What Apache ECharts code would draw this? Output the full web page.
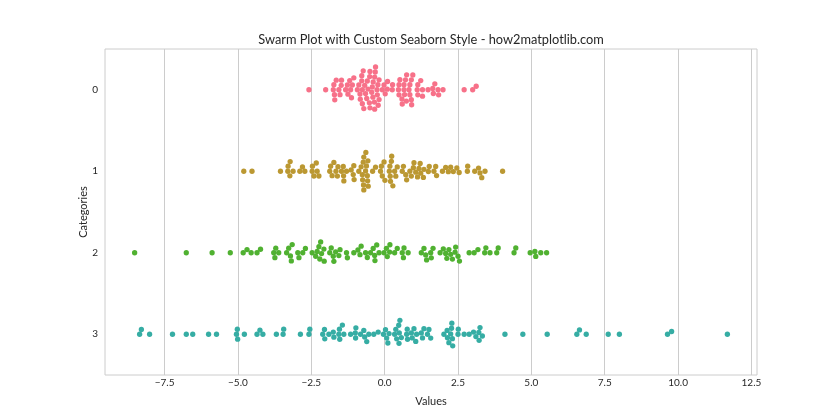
<!DOCTYPE html>
<html><head><meta charset="utf-8">
<script src="https://cdn.jsdelivr.net/npm/echarts@6/dist/echarts.min.js"></script>
<style>html,body{margin:0;padding:0;background:#fff}#c{width:840px;height:420px}</style>
</head><body><div id="c"></div>
<script>
const titleText = 'Swarm Plot with Custom Seaborn Style - how2matplotlib.com';
const xName = 'Values';
const yName = 'Categories';
const categories = ['0', '1', '2', '3'];
const xTicks = [-7.5, -5.0, -2.5, 0.0, 2.5, 5.0, 7.5, 10.0, 12.5];
const colors = ['#f77189', '#bb9832', '#50b131', '#36ada4'];

const values0 = [-2.58, -2.01, -1.70, -1.47, -1.73, -1.52, -1.56, -1.75, -1.71, -1.48, -1.65, -1.19, -1.25, -1.05, -1.33, -1.16, -1.27, -1.10, -1.13, -0.73, -0.51, -0.34, -0.26, -0.78, -0.52, -0.35, -0.84, -0.61, -0.42, -0.23, -0.88, -0.68, -0.50, -0.31, -0.93, -0.76, -0.57, -0.39, -0.19, -0.83, -0.65, -0.44, -0.25, -0.78, -0.59, -0.40, -0.22, -0.76, -0.50, -0.19, -0.71, -0.34, -0.32, 0.02, -0.08, 0.09, 0.26, -0.02, 0.10, 0.27, 0.60, 0.96, 0.59, 0.75, 0.91, 0.49, 0.68, 0.86, 0.47, 0.66, 0.83, 0.49, 0.66, 0.86, 0.52, 0.71, 0.91, 0.74, 0.92, 1.13, 1.29, 1.13, 1.29, 1.11, 1.23, 1.48, 1.71, 1.66, 1.64, 1.82, 1.84, 1.99, 2.71, 3.00, 3.12];
const values1 = [-4.80, -4.52, -3.55, -3.23, -3.22, -3.30, -3.12, -3.29, -2.89, -2.72, -2.80, -2.41, -2.24, -2.47, -2.30, -2.46, -2.33, -1.79, -1.61, -1.87, -1.66, -1.84, -1.73, -1.59, -1.41, -1.40, -1.47, -1.39, -1.30, -1.07, -1.14, -1.05, -1.04, -0.88, -0.65, -0.71, -0.76, -0.57, -0.80, -0.62, -0.73, -0.58, -0.75, -0.59, -0.72, -0.56, -0.71, -0.64, -0.41, -0.31, -0.08, -0.14, -0.11, -0.02, 0.01, 0.28, 0.20, 0.18, 0.16, 0.19, 0.23, 0.24, 0.34, 0.38, 0.43, 0.64, 0.60, 0.72, 0.75, 0.86, 0.98, 1.12, 0.91, 1.00, 1.06, 1.17, 1.23, 1.21, 1.34, 1.32, 1.49, 1.52, 1.68, 1.77, 1.74, 1.97, 2.08, 2.17, 2.25, 2.34, 2.46, 2.54, 2.82, 2.83, 3.07, 3.20, 3.25, 3.31, 3.42, 4.02];
const values2 = [-8.52, -6.76, -5.88, -5.26, -4.82, -4.69, -4.55, -4.35, -4.23, -3.78, -3.71, -3.74, -3.61, -3.27, -3.34, -3.21, -3.18, -3.15, -2.92, -2.96, -2.79, -2.70, -2.47, -2.30, -2.15, -2.18, -2.35, -2.21, -2.07, -2.06, -2.24, -1.87, -1.82, -1.67, -1.75, -1.73, -1.56, -1.52, -1.30, -1.27, -1.05, -0.91, -0.80, -0.84, -0.65, -0.59, -0.48, -0.39, -0.33, -0.34, -0.27, -0.19, -0.02, 0.06, 0.17, 0.09, 0.18, 0.34, 0.43, 0.66, 0.60, 0.80, 0.64, 1.43, 1.25, 1.40, 1.34, 1.57, 1.65, 1.59, 1.89, 2.00, 2.12, 2.08, 2.19, 2.31, 2.40, 2.42, 2.50, 2.55, 2.25, 2.88, 3.05, 3.18, 3.41, 3.45, 3.59, 3.82, 3.87, 4.41, 4.47, 4.96, 5.12, 5.15, 5.32, 5.52];
const values3 = [-8.35, -8.29, -8.01, -7.23, -6.76, -6.54, -6.00, -5.73, -5.05, -5.01, -5.02, -4.78, -4.35, -4.15, -4.25, -3.69, -3.46, -3.44, -2.87, -2.58, -2.55, -2.05, -2.11, -2.04, -1.90, -1.75, -1.73, -1.54, -1.56, -1.53, -1.44, -1.39, -1.16, -0.99, -0.98, -1.00, -0.82, -0.68, -0.61, -0.71, -0.54, -0.37, -0.22, -0.04, 0.03, 0.07, 0.15, 0.11, 0.34, 0.38, 0.49, 0.41, 0.48, 0.50, 0.57, 0.52, 0.75, 0.77, 0.78, 0.94, 0.91, 1.06, 1.00, 1.09, 1.25, 1.34, 1.29, 1.51, 1.57, 1.46, 2.02, 2.14, 2.19, 2.13, 2.31, 2.28, 2.25, 2.29, 2.32, 2.50, 2.51, 2.71, 2.88, 3.03, 3.11, 3.22, 3.33, 3.25, 3.21, 4.10, 4.71, 5.54, 6.55, 6.64, 6.87, 7.62, 8.00, 9.64, 9.78, 11.68];
const seriesValues = [values0, values1, values2, values3];

const FONT = 'Lato, "Liberation Sans", sans-serif';
const TXT = '#262626';
const GRIDC = '#cccccc';
const R = 2.43;           // marker radius (px) used by the swarm layout
const SYM = 5.3;          // drawn marker diameter

function fmt(v) {
  return v.toFixed(1).replace('-', '\u2212');
}

const all = [].concat(...seriesValues);
const dmin = Math.min(...all), dmax = Math.max(...all);
const pad = (dmax - dmin) * 0.05;

const chart = echarts.init(document.getElementById('c'), null, {renderer: 'canvas'});
chart.setOption({
  animation: false,
  backgroundColor: '#ffffff',
  title: {
    text: titleText, left: 431, top: 33, padding: 0, textAlign: 'center',
    textStyle: {fontFamily: FONT, fontSize: 12.8, fontWeight: 'normal', color: TXT}
  },
  grid: {left: 105, right: 83, top: 49, bottom: 45, show: true, borderColor: GRIDC, borderWidth: 1},
  xAxis: {
    type: 'value', min: dmin - pad, max: dmax + pad,
    name: xName, nameLocation: 'middle', nameGap: 21, nameMoveOverlap: false,
    nameTextStyle: {fontFamily: FONT, fontSize: 11, color: TXT},
    axisLine: {show: false}, axisTick: {show: false, customValues: xTicks},
    axisLabel: {customValues: xTicks, formatter: fmt, margin: 3, fontFamily: FONT, fontSize: 10, color: TXT},
    splitLine: {show: true, lineStyle: {color: GRIDC, width: 1}}
  },
  yAxis: {
    type: 'value', min: -0.5, max: 3.5, inverse: true,
    name: yName, nameLocation: 'middle', nameGap: 16, nameRotate: 90, nameMoveOverlap: false,
    nameTextStyle: {fontFamily: FONT, fontSize: 11, color: TXT},
    axisLine: {show: false}, axisTick: {show: false, customValues: [0, 1, 2, 3]},
    axisLabel: {customValues: [0, 1, 2, 3], formatter: v => categories[Math.round(v)], margin: 7, fontFamily: FONT, fontSize: 10, color: TXT},
    splitLine: {show: false}
  },
  series: categories.map((c, i) => ({
    type: 'scatter', name: c, data: [], symbolSize: SYM,
    itemStyle: {color: colors[i], opacity: 1}
  }))
});

function beeswarm(vs, mid) {
  const idx = vs.map((v, i) => i).sort((a, b) => vs[a] - vs[b]);
  const placed = [];
  const out = new Array(vs.length);
  const sep2 = 4 * R * R;
  for (const i of idx) {
    const v = vs[i];
    const nb = [];
    for (let k = placed.length - 1; k >= 0; k--) {
      if (v - placed[k].v < 2 * R) nb.push(placed[k]); else break;
    }
    nb.reverse();
    const cands = [mid];
    let leftFirst = true;
    for (const n of nb) {
      const dy = v - n.v;
      const dx = Math.sqrt(Math.max(sep2 - dy * dy, 0)) * 1.05;
      const cl = n.o - dx, cr = n.o + dx;
      if (leftFirst) cands.push(cl, cr); else cands.push(cr, cl);
      leftFirst = !leftFirst;
    }
    const order = cands.map((c, j) => j).sort((a, b) =>
      (Math.abs(cands[a] - mid) - Math.abs(cands[b] - mid)) || (a - b));
    let chosen = mid;
    for (const j of order) {
      const o = cands[j];
      if (nb.every(n => (n.v - v) * (n.v - v) + (n.o - o) * (n.o - o) >= sep2 - 1e-9)) { chosen = o; break; }
    }
    placed.push({v: v, o: chosen});
    out[i] = chosen;
  }
  return out;
}

const seriesData = seriesValues.map((vals, ci) => {
  const mid = chart.convertToPixel({gridIndex: 0}, [0, ci])[1];
  const pxs = vals.map(v => chart.convertToPixel({gridIndex: 0}, [v, ci])[0]);
  const offs = beeswarm(pxs, mid);
  return vals.map((v, k) => [v, chart.convertFromPixel({gridIndex: 0}, [pxs[k], offs[k]])[1]]);
});

chart.setOption({series: seriesData.map(d => ({data: d}))});
</script>
</body></html>
